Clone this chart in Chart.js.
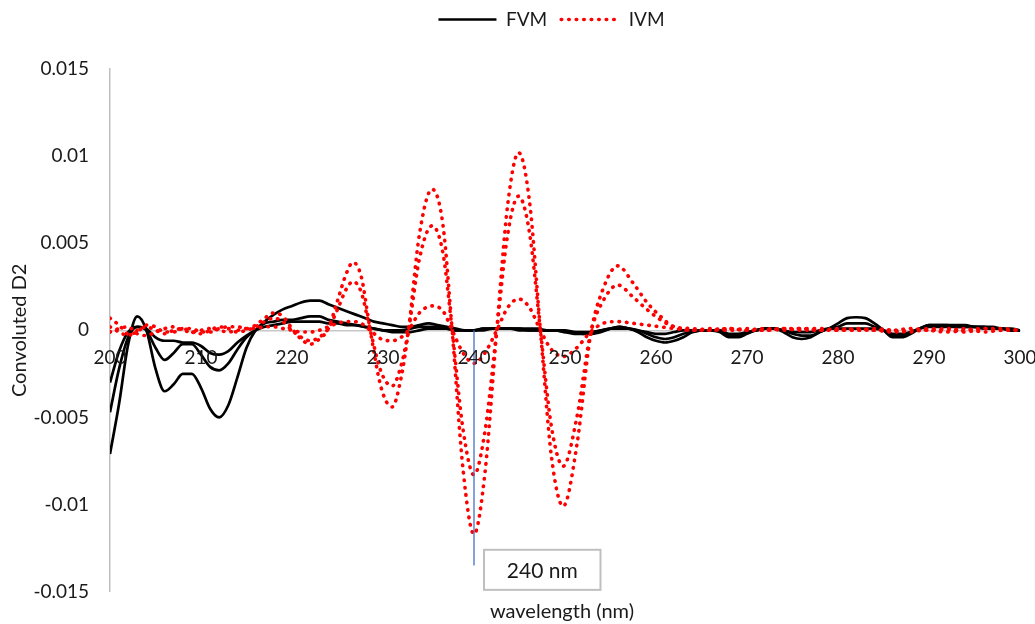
<!DOCTYPE html>
<html>
<head>
<meta charset="utf-8">
<title>Convoluted D2</title>
<script src="https://cdn.jsdelivr.net/npm/chart.js"></script>
<style>
  html, body { margin: 0; padding: 0; background: #fff; }
</style>
</head>
<body>
<canvas id="chart-D2" width="1035" height="624"></canvas>
<script>
// wavelength grid (nm) for the FVM curves
var fvmWave = [200,201,202,203,204,205,206,207,208,209,210,211,212,213,214,215,216,217,218,219,
  220,221,222,223,224,225,226,227,228,229,230,231,232,233,234,235,236,237,238,239,
  240,241,242,243,244,245,246,247,248,249,250,251,252,253,254,255,256,257,258,259,
  260,261,262,263,264,265,266,267,268,269,270,271,272,273,274,275,276,277,278,279,
  280,281,282,283,284,285,286,287,288,289,290,291,292,293,294,295,296,297,298,299,300];

var fvm1 = [-0.0071,-0.0042,-0.0008,0.0008,0.0000,-0.0022,-0.0035,-0.0031,-0.0025,-0.0025,
  -0.0033,-0.0045,-0.0050,-0.0043,-0.0027,-0.0010,0.0000,0.0005,0.0009,0.0012,
  0.0014,0.0016,0.0017,0.0017,0.0015,0.0013,0.0011,0.0009,0.0007,0.0005,
  0.0004,0.0003,0.0002,0.0002,0.0003,0.0004,0.0003,0.0002,0.0001,0.0000,
  0.0000,0.0001,0.0001,0.0001,0.0001,0.0001,0.0001,0.0001,0.0000,0.0000,
  -0.0001,-0.0002,-0.0002,-0.0002,-0.0001,0.0001,0.0002,0.0001,-0.0001,-0.0004,
  -0.0006,-0.0007,-0.0006,-0.0004,-0.0001,0.0000,0.0000,-0.0001,-0.0004,-0.0004,
  -0.0002,0.0000,0.0001,0.0001,-0.0001,-0.0004,-0.0005,-0.0004,-0.0001,0.0001,
  0.0004,0.0007,0.00075,0.0007,0.0004,0.0000,-0.0004,-0.0004,-0.0002,0.0001,
  0.0003,0.0003,0.0003,0.0002,0.0002,0.0002,0.0002,0.0002,0.0001,0.0001,0.0000];

var fvm2 = [-0.0047,-0.0022,-0.0004,0.0002,0.0000,-0.0010,-0.0017,-0.0013,-0.0008,-0.0008,
  -0.0014,-0.0021,-0.0023,-0.0019,-0.0011,-0.0004,0.0000,0.0004,0.0005,0.0006,
  0.0006,0.0007,0.0008,0.0008,0.0006,0.0005,0.0004,0.0003,0.0002,0.0001,
  0.0000,0.0000,0.0000,0.0001,0.0002,0.0002,0.0002,0.0001,0.0000,0.0000,
  0.0000,0.0001,0.0001,0.0001,0.0001,0.0000,0.0000,0.0000,0.0000,0.0000,
  -0.0001,-0.0001,-0.0002,-0.0001,0.0000,0.0001,0.0002,0.0001,0.0000,-0.0002,
  -0.0004,-0.0005,-0.0004,-0.0002,-0.0001,0.0000,0.0000,0.0000,-0.0003,-0.0003,
  -0.0001,0.0000,0.0001,0.0001,0.0000,-0.0002,-0.0003,-0.0003,-0.0001,0.0001,
  0.0002,0.0004,0.0004,0.0004,0.0002,0.0000,-0.0003,-0.0003,-0.0001,0.0001,
  0.0003,0.0003,0.0003,0.0003,0.0003,0.0002,0.0002,0.0001,0.0001,0.0000,0.0000];

var fvm3 = [-0.0030,-0.0012,-0.0001,0.0002,0.0001,-0.0004,-0.0006,-0.0006,-0.0007,-0.0007,
  -0.0009,-0.0013,-0.0014,-0.0012,-0.0007,-0.0003,0.0000,0.0002,0.0003,0.0004,
  0.0005,0.0005,0.0005,0.0005,0.0004,0.0004,0.0003,0.0003,0.0002,0.0001,
  0.0000,-0.0001,-0.0001,-0.0001,0.0000,0.0001,0.0001,0.0001,0.0000,0.0000,
  0.0000,0.0000,0.0001,0.0001,0.0001,0.0001,0.0000,0.0000,0.0000,0.0000,
  0.0000,-0.0001,-0.0001,-0.0001,0.0000,0.0001,0.0001,0.0001,0.0000,-0.0001,
  -0.0002,-0.0002,-0.0001,0.0000,0.0000,0.0000,0.0000,0.0000,-0.0002,-0.0002,
  -0.0001,0.0000,0.0001,0.0001,0.0000,-0.0001,-0.0001,-0.0001,0.0000,0.0001,
  0.0001,0.0001,0.0001,0.0001,0.0001,0.0000,-0.0002,-0.0002,-0.0001,0.0001,
  0.0002,0.0002,0.0002,0.0002,0.0002,0.0002,0.0001,0.0001,0.0001,0.0000,0.0000];

// wavelength points (nm) read for the IVM curves
var ivmWave = [200,201,202,203,204,205,206,207,208,209,210,211,212,213,214,215,216,217,218,219,
  220,221,222,223,224,225,226,226.7,227.6,228.6,229.8,231,232,232.8,234,235.4,236.6,237.6,238.8,
  240,241.2,242.5,243.7,244.9,246.1,247.3,248.5,249.8,251.3,252.8,254.2,255.8,257.5,259,260.5,262,
  264,266,268,270,272,274,276,278,280,282,284,286,288,290,292,294,296,298,300];

var ivm1 = [0.0007,0.0003,-0.0002,-0.0001,0.0003,0.0002,-0.0001,-0.0001,0.0001,0.0001,
  -0.0001,-0.0001,0.0001,0.0002,0.0002,0.0001,0.0003,0.0007,0.0010,0.0008,
  0.0001,-0.0005,-0.0008,-0.0005,0.0001,0.0017,0.0033,0.0039,0.0031,0.0000,-0.0033,
  -0.0044,-0.0027,0.0000,0.0055,0.0081,0.0060,0.0000,-0.0080,
  -0.0117,-0.0082,0.0000,0.0072,0.0102,0.0074,0.0000,-0.0072,-0.0101,-0.0066,-0.0003,
  0.0024,0.0037,0.0027,0.0016,0.0008,0.0002,
  0.0001,0.0000,0.0001,0.0000,0.0001,0.0000,0.0001,0.0001,0.0000,0.0000,0.0000,-0.0001,
  0.0000,0.0000,0.0001,-0.0001,0.0001,0.0000,0.0000];

var ivm2 = [0.0002,-0.0001,-0.0003,0.0000,0.0002,0.0000,-0.0002,0.0000,0.0001,-0.0001,
  -0.0002,0.0000,0.0002,0.0001,-0.0001,0.0000,0.0002,0.0005,0.0007,0.0005,
  0.0000,-0.0004,-0.0006,-0.0004,0.0001,0.0012,0.0024,0.0028,0.0022,0.0000,-0.0024,
  -0.0032,-0.0020,0.0000,0.0041,0.0060,0.0044,0.0000,-0.0057,
  -0.0083,-0.0058,0.0000,0.0055,0.0077,0.0056,0.0000,-0.0055,-0.0078,-0.0050,-0.0002,
  0.0017,0.0026,0.0019,0.0012,0.0006,0.0002,
  0.0000,0.0001,0.0000,0.0001,0.0000,0.0001,0.0000,0.0000,0.0001,0.0000,0.0001,0.0000,
  -0.0001,0.0001,0.0000,0.0001,-0.0001,0.0000,0.0000];

var ivm3 = [-0.0001,0.0001,0.0002,-0.0002,-0.0003,-0.0001,0.0001,0.0002,0.0000,-0.0001,
  0.0000,0.0001,0.0000,-0.0001,0.0000,0.0001,0.0001,0.0002,0.0002,0.0001,
  0.0000,-0.0001,-0.0001,0.0000,0.0002,0.0004,0.0005,0.0005,0.0004,0.0000,-0.0005,
  -0.0006,-0.0004,0.0000,0.0010,0.0014,0.0011,0.0000,-0.0013,
  -0.0019,-0.0013,0.0000,0.0013,0.0018,0.0013,0.0000,-0.0011,-0.0015,-0.0010,-0.0001,
  0.0004,0.0005,0.0004,0.0003,0.0002,0.0001,
  0.0000,0.0000,0.0001,0.0000,0.0000,0.0001,0.0001,0.0000,0.0000,0.0001,0.0000,0.0000,
  0.0001,0.0000,-0.0001,0.0000,0.0001,0.0001,0.0000];

// axis ticks
var xTicks = { min: 200, max: 300, step: 10 };
var yTicks = { min: -0.015, max: 0.015, step: 0.005 };
var xTitle = 'wavelength (nm)';

// 240 nm marker and its label box (data units)
var markWave = 240;
var markBottom = -0.0135;
var markText = '240 nm';
var markBox = { from: 241.1, to: 253.9, top: -0.0126, bottom: -0.0149 };

var textColor = '#1a1a1a';
var fontFamily = 'Lato, "Open Sans", sans-serif';
Chart.defaults.font.family = fontFamily;
Chart.defaults.color = textColor;

function pairs(xs, ys) {
  return xs.map(function (x, i) { return { x: x, y: ys[i] }; });
}

function fvmSet(values) {
  return {
    label: 'FVM',
    data: pairs(fvmWave, values),
    borderColor: '#000000',
    backgroundColor: '#000000',
    borderWidth: 2.7,
    pointRadius: 0,
    cubicInterpolationMode: 'monotone',
    order: 2
  };
}

function ivmSet(values) {
  return {
    label: 'IVM',
    data: pairs(ivmWave, values),
    borderColor: '#ff0000',
    backgroundColor: '#ff0000',
    borderWidth: 3.6,
    borderDash: [0.5, 7],
    borderCapStyle: 'round',
    pointRadius: 0,
    cubicInterpolationMode: 'monotone',
    order: 1
  };
}

// legend: taller box, shifted a little right like the original
var legendTweak = {
  id: 'legendTweak',
  beforeInit: function (chart) {
    var legend = chart.legend;
    var fit = legend.fit, draw = legend.draw;
    legend.fit = function () {
      fit.call(this);
      this.height += 26;
    };
    legend.draw = function () {
      this.ctx.save();
      this.ctx.translate(34, -4);
      draw.call(this);
      this.ctx.restore();
    };
  }
};

var marker = {
  id: 'marker',
  afterDatasetsDraw: function (chart) {
    var ctx = chart.ctx, xs = chart.scales.x, ys = chart.scales.y, area = chart.chartArea;
    var px = xs.getPixelForValue(markWave);
    var y0 = ys.getPixelForValue(0);
    ctx.save();
    ctx.strokeStyle = '#4472c4';
    ctx.lineWidth = 1.3;
    ctx.beginPath();
    ctx.moveTo(px, y0);
    ctx.lineTo(px, ys.getPixelForValue(markBottom));
    ctx.stroke();

    var l = xs.getPixelForValue(markBox.from), r = xs.getPixelForValue(markBox.to);
    var t = ys.getPixelForValue(markBox.top), b = ys.getPixelForValue(markBox.bottom);
    ctx.fillStyle = '#ffffff';
    ctx.fillRect(l, t, r - l, b - t);
    ctx.strokeStyle = '#bfbfbf';
    ctx.lineWidth = 2;
    ctx.strokeRect(l, t, r - l, b - t);
    ctx.fillStyle = textColor;
    ctx.font = '21px ' + fontFamily;
    ctx.textAlign = 'center';
    ctx.textBaseline = 'middle';
    ctx.fillText(markText, (l + r) / 2, (t + b) / 2 + 1);

    // x tick labels hang below the zero line
    ctx.font = '19px ' + fontFamily;
    xs.ticks.forEach(function (tick) {
      ctx.fillText(String(tick.value), xs.getPixelForValue(tick.value), y0 + 28);
    });

    // x axis title under the plot
    ctx.font = '20px ' + fontFamily;
    ctx.fillText(xTitle, (area.left + area.right) / 2 - 3, area.bottom + 20);
    ctx.restore();
  }
};

var ctx = document.getElementById('chart-D2').getContext('2d');
var chart = new Chart(ctx, {
  type: 'line',
  data: {
    datasets: [fvmSet(fvm1), fvmSet(fvm2), fvmSet(fvm3), ivmSet(ivm1), ivmSet(ivm2), ivmSet(ivm3)]
  },
  plugins: [legendTweak, marker],
  options: {
    responsive: false,
    animation: false,
    devicePixelRatio: 1,
    layout: { padding: { top: 0, right: 0, bottom: 31, left: 0 } },
    scales: {
      x: {
        type: 'linear',
        axis: 'x',
        position: { y: 0 },
        min: xTicks.min,
        max: xTicks.max,
        grid: { display: false, drawTicks: false },
        border: { display: true, color: '#c8c8c8', width: 1.5 },
        ticks: {
          display: false,
          stepSize: xTicks.step,
          maxRotation: 0
        },
        afterFit: function (scale) {
          scale.paddingLeft = 0;
          scale.paddingRight = 15;
        }
      },
      y: {
        type: 'linear',
        position: 'left',
        min: yTicks.min,
        max: yTicks.max,
        grid: { display: false, drawTicks: false },
        border: { display: true, color: '#bfbfbf', width: 1.5 },
        ticks: {
          stepSize: yTicks.step,
          padding: 21,
          font: { size: 19 },
          color: textColor,
          callback: function (v) { return String(+v.toFixed(3)); }
        },
        title: {
          display: true,
          text: 'Convoluted D2',
          font: { size: 20 },
          color: textColor,
          padding: { top: 8, bottom: 0 }
        },
        afterFit: function (scale) { scale.width = 110; }
      }
    },
    plugins: {
      legend: {
        display: true,
        position: 'top',
        labels: {
          usePointStyle: true,
          pointStyle: 'line',
          pointStyleWidth: 58,
          boxHeight: 19,
          padding: 14,
          font: { size: 19 },
          color: textColor,
          sort: function (a, b) { return a.datasetIndex - b.datasetIndex; },
          filter: function (item) { return item.datasetIndex === 0 || item.datasetIndex === 3; },
          generateLabels: function (chart) {
            var items = Chart.defaults.plugins.legend.labels.generateLabels(chart);
            items.forEach(function (item) {
              var ds = chart.data.datasets[item.datasetIndex];
              item.lineDash = ds.borderDash || [];
              item.lineCap = ds.borderCapStyle || 'butt';
              item.lineWidth = ds.borderWidth;
              item.strokeStyle = ds.borderColor;
            });
            return items;
          }
        }
      },
      title: { display: false },
      tooltip: { enabled: false }
    }
  }
});
</script>
</body>
</html>
